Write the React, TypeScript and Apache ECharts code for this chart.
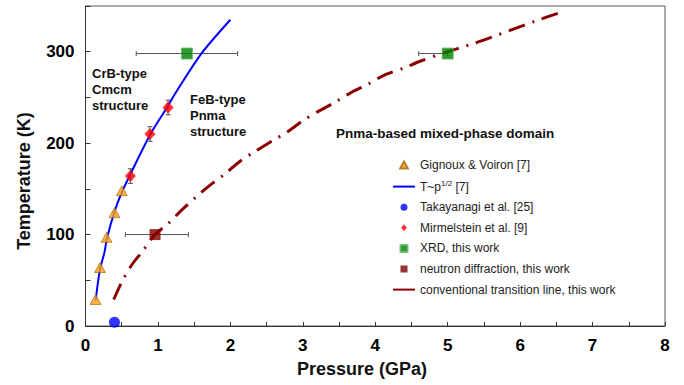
import React, { useEffect, useRef } from "react";
import * as echarts from "echarts";

// Gignoux & Voiron [7] — phase boundary points (Pressure GPa, Temperature K)
const gignouxP = [0.14, 0.2, 0.29, 0.4, 0.5];
const gignouxT = [29, 64, 97, 124, 148];

// T ~ p^1/2 fit curve [7]
const fitP = [0.14, 0.2, 0.26, 0.3, 0.4, 0.5, 0.62, 0.89, 1.14, 1.26, 1.6, 2.0];
const fitT = [28, 62, 80, 97, 125, 146, 166, 209, 241, 257, 298, 335];

// Takayanagi et al. [25]
const takayanagiP = [0.4];
const takayanagiT = [4];

// Mirmelstein et al. [9] with temperature uncertainty
const mirmelsteinP = [0.62, 0.89, 1.14];
const mirmelsteinT = [164, 210, 239];
const mirmelsteinErrT = [8, 8, 8];

// XRD, this work — with pressure range (low, high)
const xrdP = [1.4, 5.0];
const xrdT = [298, 298];
const xrdPLow = [0.7, 4.6];
const xrdPHigh = [2.1, 5.0];

// Neutron diffraction, this work
const neutronP = [0.96];
const neutronT = [100];
const neutronPLow = [0.55];
const neutronPHigh = [1.42];

// Conventional transition line, this work
const transP = [0.39, 0.5, 0.64, 0.79, 0.96, 1.14, 1.33, 1.51, 1.72, 1.92, 2.13, 2.34, 2.57, 2.8, 2.99, 3.22, 3.45, 3.68, 3.91, 4.14, 4.39, 4.6, 4.92, 5.36, 5.85, 6.23, 6.52];
const transT = [29, 48, 67, 82, 100, 112, 127, 140, 154, 166, 180, 191, 202, 213, 224, 235, 245, 256, 265, 275, 282, 289, 298, 309, 323, 334, 342];

const NAME_GIG = "Gignoux & Voiron [7]";
const NAME_FIT = "T~p^1/2 [7]";
const NAME_TAK = "Takayanagi et al. [25]";
const NAME_MIR = "Mirmelstein et al. [9]";
const NAME_XRD = "XRD, this work";
const NAME_NEU = "neutron diffraction, this work";
const NAME_TRN = "conventional transition line, this work";

const FONT = "'Liberation Sans', Arial, sans-serif";
// legend icons as paths so they keep their aspect inside the 22px icon box
const LINE_ICON = "path://M0,0H11V1H0Z";
const TRI_ICON = "path://M5,0L10,9L0,9Z";
const CIRCLE_ICON = "path://M0,5A5,5 0 1,0 10,5A5,5 0 1,0 0,5Z";
const DIAMOND_ICON = "path://M5,0L10,6L5,12L0,6Z";
const SQUARE_ICON = "path://M0,0H10V10H0Z";

const zip = (a: number[], b: number[]) => a.map((v, i) => [v, b[i]]);

export default function App() {
  const ref = useRef<HTMLDivElement>(null);

  useEffect(() => {
    if (!ref.current) return;
    const chart = echarts.init(ref.current, undefined, { renderer: "svg" });

    const xErrData = [
      ...xrdP.map((p, i) => [p, xrdT[i], xrdPLow[i], xrdPHigh[i]]),
      ...neutronP.map((p, i) => [p, neutronT[i], neutronPLow[i], neutronPHigh[i]]),
    ];
    const yErrData = mirmelsteinP.map((p, i) => [
      p,
      mirmelsteinT[i],
      mirmelsteinT[i] - mirmelsteinErrT[i],
      mirmelsteinT[i] + mirmelsteinErrT[i],
    ]);

    const errStyle = { stroke: "#555", lineWidth: 1 };

    chart.setOption({
      animation: false,
      grid: {
        left: 85.5,
        right: 19,
        top: 6,
        bottom: 59,
        show: true,
        borderColor: "#555",
        borderWidth: 1,
      },
      xAxis: {
        type: "value",
        min: 0,
        max: 8,
        interval: 0.5,
        axisLine: { show: true, lineStyle: { color: "#333", width: 1 } },
        axisTick: { show: true, inside: true, length: 4, lineStyle: { color: "#333" } },
        splitLine: { show: false },
        axisLabel: {
          margin: 11,
          color: "#000",
          fontFamily: FONT,
          fontWeight: "bold",
          fontSize: 17,
          formatter: (v: number) => (Number.isInteger(v) ? String(v) : ""),
        },
      },
      yAxis: {
        type: "value",
        min: 0,
        max: 350,
        interval: 50,
        axisLine: { show: true, lineStyle: { color: "#333", width: 1 } },
        axisTick: { show: true, inside: true, length: 5, lineStyle: { color: "#333" } },
        splitLine: { show: false },
        axisLabel: {
          margin: 11,
          color: "#000",
          fontFamily: FONT,
          fontWeight: "bold",
          fontSize: 17,
          formatter: (v: number) => (v % 100 === 0 ? String(v) : ""),
        },
      },
      legend: {
        orient: "vertical",
        left: 388,
        top: 154,
        itemWidth: 22,
        itemHeight: 7,
        itemGap: 8.6,
        symbolKeepAspect: true,
        selectedMode: false,
        textStyle: {
          fontFamily: FONT,
          fontSize: 12,
          color: "#222",
          rich: {
            t: { fontFamily: FONT, fontSize: 12, color: "#222" },
            s: { fontFamily: FONT, fontSize: 8, color: "#222", padding: [0, 0, 6, 0] },
          },
        },
        formatter: (name: string) =>
          name === NAME_FIT ? "{t|T~p}{s|1/2}{t| [7]}" : name,
        data: [
          { name: NAME_GIG, icon: TRI_ICON },
          { name: NAME_FIT, icon: LINE_ICON },
          { name: NAME_TAK, icon: CIRCLE_ICON },
          { name: NAME_MIR, icon: DIAMOND_ICON },
          { name: NAME_XRD, icon: SQUARE_ICON },
          { name: NAME_NEU, icon: SQUARE_ICON },
          { name: NAME_TRN, icon: LINE_ICON },
        ],
      },
      graphic: [
        {
          type: "text",
          x: 92,
          y: 65,
          style: {
            text: "CrB-type\nCmcm\nstructure",
            font: `bold 13px ${FONT}`,
            lineHeight: 16,
            fill: "#111",
          },
        },
        {
          type: "text",
          x: 190,
          y: 91,
          style: {
            text: "FeB-type\nPnma\nstructure",
            font: `bold 13px ${FONT}`,
            lineHeight: 16,
            fill: "#111",
          },
        },
        {
          type: "text",
          x: 336,
          y: 126,
          style: {
            text: "Pnma-based mixed-phase domain",
            font: `bold 13.5px ${FONT}`,
            fill: "#111",
          },
        },
        {
          type: "text",
          x: 362,
          y: 369,
          style: {
            text: "Pressure (GPa)",
            font: `bold 18px ${FONT}`,
            fill: "#111",
            textAlign: "center",
            textVerticalAlign: "middle",
          },
        },
        {
          type: "text",
          x: 24,
          y: 181,
          rotation: Math.PI / 2,
          style: {
            text: "Temperature (K)",
            font: `bold 18px ${FONT}`,
            fill: "#111",
            textAlign: "center",
            textVerticalAlign: "middle",
          },
        },
      ],
      series: [
        {
          type: "custom",
          name: "xErr",
          silent: true,
          z: 1,
          data: xErrData,
          encode: { x: 0, y: 1 },
          renderItem: (_params: any, api: any) => {
            const y = api.coord([0, api.value(1)])[1];
            const x0 = api.coord([api.value(2), 0])[0];
            const x1 = api.coord([api.value(3), 0])[0];
            return {
              type: "group",
              children: [
                { type: "line", shape: { x1: x0, y1: y, x2: x1, y2: y }, style: errStyle },
                { type: "line", shape: { x1: x0, y1: y - 2.5, x2: x0, y2: y + 2.5 }, style: errStyle },
                { type: "line", shape: { x1: x1, y1: y - 2.5, x2: x1, y2: y + 2.5 }, style: errStyle },
              ],
            };
          },
        },
        {
          type: "custom",
          name: "yErr",
          silent: true,
          z: 1,
          data: yErrData,
          encode: { x: 0, y: 1 },
          renderItem: (_params: any, api: any) => {
            const x = api.coord([api.value(0), 0])[0];
            const y0 = api.coord([0, api.value(2)])[1];
            const y1 = api.coord([0, api.value(3)])[1];
            return {
              type: "group",
              children: [
                { type: "line", shape: { x1: x, y1: y0, x2: x, y2: y1 }, style: errStyle },
                { type: "line", shape: { x1: x - 2.5, y1: y0, x2: x + 2.5, y2: y0 }, style: errStyle },
                { type: "line", shape: { x1: x - 2.5, y1: y1, x2: x + 2.5, y2: y1 }, style: errStyle },
              ],
            };
          },
        },
        {
          type: "line",
          name: NAME_TRN,
          data: zip(transP, transT),
          symbol: "none",
          showSymbol: false,
          smooth: 0.3,
          z: 2,
          color: "#8b0000",
          lineStyle: { color: "#8b0000", width: 3, type: [17, 8, 2, 8], cap: "butt" },
        },
        {
          type: "line",
          name: NAME_FIT,
          data: zip(fitP, fitT),
          symbol: "none",
          showSymbol: false,
          smooth: 0.3,
          z: 3,
          color: "#0000ff",
          lineStyle: { color: "#0000ff", width: 2 },
        },
        {
          type: "scatter",
          name: NAME_GIG,
          data: zip(gignouxP, gignouxT),
          symbol: "triangle",
          symbolSize: [11, 10],
          z: 5,
          itemStyle: { color: "#f5a01a", borderColor: "#a86a00", borderWidth: 0.8 },
        },
        {
          type: "scatter",
          name: NAME_TAK,
          data: zip(takayanagiP, takayanagiT),
          symbol: "circle",
          symbolSize: 11,
          z: 5,
          itemStyle: { color: "#0000ff" },
        },
        {
          type: "scatter",
          name: NAME_MIR,
          data: zip(mirmelsteinP, mirmelsteinT),
          symbol: "diamond",
          symbolSize: [11, 12],
          z: 5,
          itemStyle: { color: "#ff0000" },
        },
        {
          type: "scatter",
          name: NAME_XRD,
          data: zip(xrdP, xrdT),
          symbol: "rect",
          symbolSize: 11,
          z: 5,
          itemStyle: { color: "#008000", borderColor: "#5cb85c", borderWidth: 1 },
        },
        {
          type: "scatter",
          name: NAME_NEU,
          data: zip(neutronP, neutronT),
          symbol: "rect",
          symbolSize: 11,
          z: 5,
          itemStyle: { color: "#800000" },
        },
      ],
    });

    return () => chart.dispose();
  }, []);

  return (
    <div
      ref={ref}
      style={{ position: "absolute", left: 0, top: 0, width: 684, height: 385, background: "#fff" }}
    />
  );
}
